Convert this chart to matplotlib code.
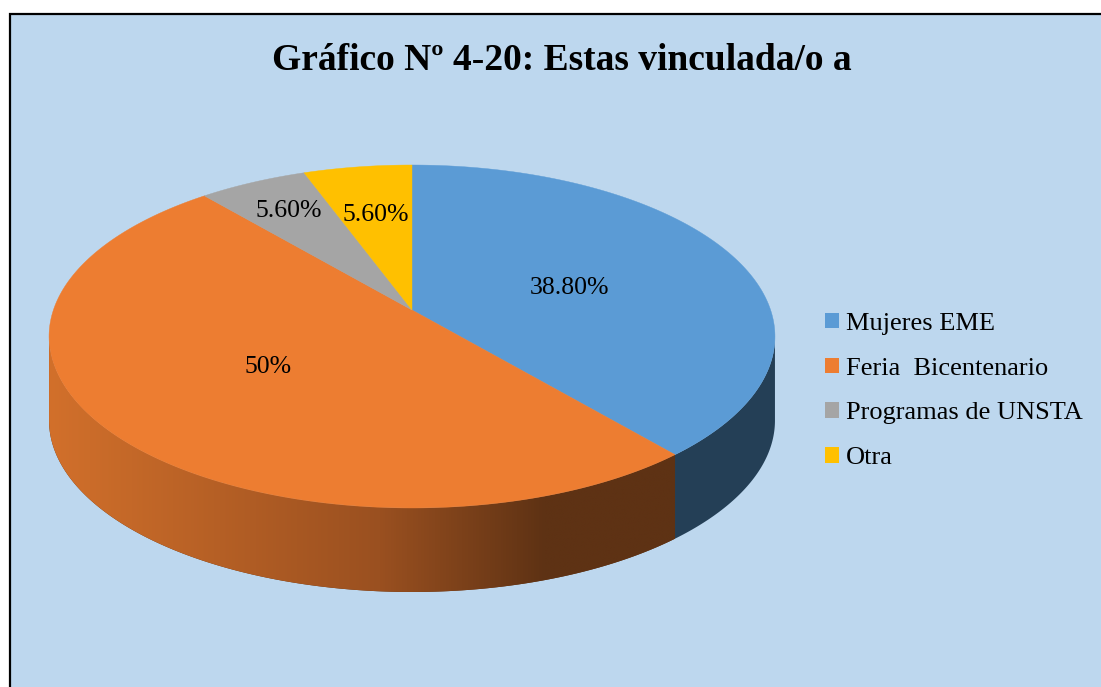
import numpy as np
import matplotlib
matplotlib.use("Agg")
import matplotlib.pyplot as plt
from matplotlib.patches import Polygon, Rectangle, Patch
from matplotlib.colors import to_rgb

# ---- data ----
categories = ['Mujeres EME', 'Feria  Bicentenario', 'Programas de UNSTA', 'Otra']
values = [38.8, 50.0, 5.6, 5.6]
value_labels = ['38.80%', '50%', '5.60%', '5.60%']
title = 'Gráfico Nº 4-20: Estas vinculada/o a'

# ---- style ----
top_colors = ['#5B9BD5', '#ED7D31', '#A5A5A5', '#FFC000']
side_dark = ['#243F56', '#5E3214', '#555555', '#7F6000']
label_r = [0.48, 0.5, 0.75, 0.63]
BG = '#BDD7EE'
W, H = 1101, 687

# projected 3-D disk geometry (pixel space)
cx, cy = 412.0, 310.0
A, B, k = 358.6, 167.4, 0.1545
T = 84.0

def proj(t, r=1.0):
    u = r * np.sin(t)
    v = r * np.cos(t)
    w = 1 + k * v
    return cx + A * u / w, cy - B * v / w

fig = plt.figure(figsize=(W / 100, H / 100), dpi=100, facecolor='white')
ax = fig.add_axes([0, 0, 1, 1])
ax.set_xlim(0, W)
ax.set_ylim(H, 0)
ax.axis('off')

ax.add_patch(Rectangle((9.5, 13.5), W, H, facecolor=BG, edgecolor='black', lw=1.6, zorder=0))

fracs = np.array(values) / np.sum(values)
bounds = np.concatenate([[0], np.cumsum(fracs)]) * 2 * np.pi
t_front0 = np.arccos(-k)
t_front1 = 2 * np.pi - t_front0

# sides
for i in range(len(values)):
    a0, a1 = max(bounds[i], t_front0), min(bounds[i + 1], t_front1)
    if a1 <= a0:
        continue
    ts = np.linspace(a0, a1, 200)
    xt, yt = proj(ts)
    pts = np.vstack([np.column_stack([xt, yt]), np.column_stack([xt[::-1], yt[::-1] + T])])
    poly = Polygon(pts, closed=True, facecolor=side_dark[i], edgecolor='none', zorder=2)
    ax.add_patch(poly)
    if i == 1:
        x0, x1 = pts[:, 0].min() - 2, pts[:, 0].max() + 2
        xs = np.linspace(x0, x1, 400)
        c_light = np.array(to_rgb('#D2702B'))
        c_mid = np.array(to_rgb('#9A5020'))
        c_dark = np.array(to_rgb(side_dark[1]))
        f = np.interp(xs, [48, 380, 545, 700], [0, 0.5, 1, 1])
        cols = np.where(f[:, None] < 0.5,
                        c_light + (c_mid - c_light) * (f[:, None] / 0.5),
                        c_mid + (c_dark - c_mid) * ((f[:, None] - 0.5) / 0.5))
        img = cols[None, :, :]
        y0, y1 = pts[:, 1].min() - 2, pts[:, 1].max() + 2
        im = ax.imshow(img, extent=[x0, x1, y1, y0], aspect='auto', zorder=2.5, interpolation='bilinear')
        clip = Polygon(pts, closed=True, transform=ax.transData, facecolor='none', edgecolor='none')
        ax.add_patch(clip)
        im.set_clip_path(clip)

# top faces
for i in range(len(values)):
    ts = np.linspace(bounds[i], bounds[i + 1], 200)
    xt, yt = proj(ts)
    pts = np.vstack([[cx, cy], np.column_stack([xt, yt])])
    ax.add_patch(Polygon(pts, closed=True, facecolor=top_colors[i], edgecolor=top_colors[i], lw=0.3, zorder=3))

ax.set_xlim(0, W)
ax.set_ylim(H, 0)

# value labels
for i in range(len(values)):
    tm = 0.5 * (bounds[i] + bounds[i + 1])
    lx, ly = proj(tm, label_r[i])
    if i == 0:
        ly += 5
    ax.text(lx, ly, value_labels[i], ha='center', va='center', fontsize=18.5,
            family='Liberation Serif', color='black', zorder=5)

ax.text(562, 60, title, ha='center', va='center', fontsize=27, fontweight='bold',
        family='Liberation Serif', color='black', zorder=5)

handles = [Patch(facecolor=c, edgecolor='none') for c in top_colors]
leg = ax.legend(handles, categories, loc='center left', bbox_to_anchor=(825 / W, 1 - 391 / H),
                frameon=False, prop={'family': 'Liberation Serif', 'size': 19},
                handlelength=0.53, handleheight=0.53, handletextpad=0.25,
                labelspacing=0.86, borderaxespad=0, borderpad=0)

fig.savefig('out.png', dpi=100, facecolor='white')
